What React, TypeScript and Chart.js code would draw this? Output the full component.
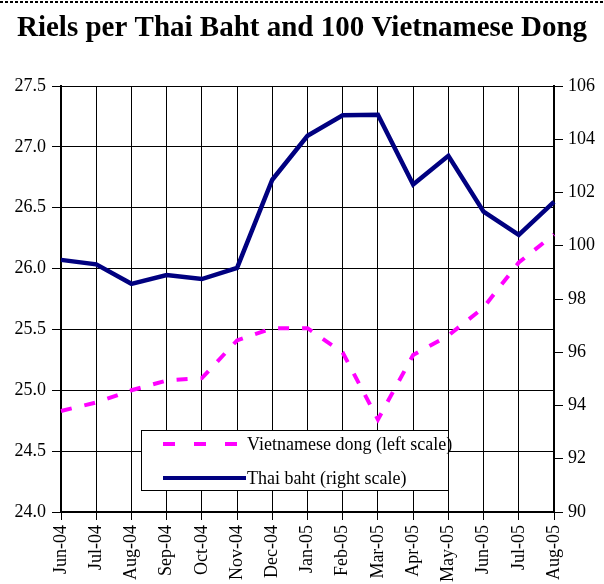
import React, { useEffect, useRef } from "react";
import { Chart, registerables } from "chart.js";

Chart.register(...registerables);

const months = ["Jun-04", "Jul-04", "Aug-04", "Sep-04", "Oct-04", "Nov-04", "Dec-04", "Jan-05", "Feb-05", "Mar-05", "Apr-05", "May-05", "Jun-05", "Jul-05", "Aug-05"];
const vietnameseDong = [24.83, 24.9, 25.0, 25.08, 25.1, 25.41, 25.51, 25.51, 25.31, 24.76, 25.29, 25.45, 25.68, 26.05, 26.28];
const thaiBaht = [99.47, 99.3, 98.57, 98.9, 98.75, 99.17, 102.48, 104.13, 104.9, 104.92, 102.3, 103.38, 101.28, 100.41, 101.65];

const titleText = "Riels per Thai Baht and 100 Vietnamese Dong";
const legendDong = "Vietnamese dong (left scale)";
const legendBaht = "Thai baht (right scale)";

const SERIF = "'Liberation Serif', 'Times New Roman', serif";

const decorPlugin = {
  id: "decor",
  afterDraw(chart: any) {
    const ctx = chart.ctx;
    ctx.save();
    // dashed top border
    ctx.strokeStyle = "#000";
    ctx.lineWidth = 2;
    ctx.setLineDash([3, 2]);
    ctx.beginPath();
    ctx.moveTo(0, 2);
    ctx.lineTo(chart.width, 2);
    ctx.stroke();
    ctx.setLineDash([]);
    // title
    ctx.fillStyle = "#000";
    ctx.font = "bold 29px " + SERIF;
    ctx.textAlign = "center";
    ctx.textBaseline = "alphabetic";
    ctx.fillText(titleText, chart.width / 2, 36);
    // legend box
    const lx = 141.5, ly = 430.5, lw = 307, lh = 60;
    ctx.fillStyle = "#fff";
    ctx.fillRect(lx, ly, lw, lh);
    ctx.strokeStyle = "#000";
    ctx.lineWidth = 1;
    ctx.strokeRect(lx, ly, lw, lh);
    // dong sample
    ctx.strokeStyle = "#FF00FF";
    ctx.lineWidth = 4;
    ctx.setLineDash([12, 19]);
    ctx.beginPath();
    ctx.moveTo(163, 444);
    ctx.lineTo(246, 444);
    ctx.stroke();
    ctx.setLineDash([]);
    // baht sample
    ctx.strokeStyle = "#000080";
    ctx.lineWidth = 4;
    ctx.beginPath();
    ctx.moveTo(163, 478);
    ctx.lineTo(246, 478);
    ctx.stroke();
    ctx.fillStyle = "#000";
    ctx.font = "18px " + SERIF;
    ctx.textAlign = "left";
    ctx.textBaseline = "middle";
    ctx.fillText(legendDong, 247, 445);
    ctx.fillText(legendBaht, 247, 479);
    ctx.restore();
  },
};

export default function App() {
  const ref = useRef<HTMLCanvasElement | null>(null);
  useEffect(() => {
    if (!ref.current) return;
    const chart = new Chart(ref.current, {
      type: "line",
      data: {
        labels: months,
        datasets: [
          {
            label: legendDong,
            data: vietnameseDong,
            yAxisID: "yL",
            borderColor: "#FF00FF",
            borderWidth: 4,
            borderDash: [11, 13],
            pointRadius: 0,
            tension: 0,
            fill: false,
          },
          {
            label: legendBaht,
            data: thaiBaht,
            yAxisID: "yR",
            borderColor: "#000080",
            borderWidth: 4.5,
            pointRadius: 0,
            tension: 0,
            fill: false,
          },
        ],
      },
      options: {
        animation: false,
        responsive: false,
        maintainAspectRatio: false,
        layout: { padding: { top: 86, left: 0, right: 0, bottom: 0 } },
        plugins: {
          legend: { display: false },
          title: { display: false },
          tooltip: { enabled: false },
        },
        scales: {
          x: {
            type: "category",
            offset: false,
            grid: { color: "#000", lineWidth: 1, tickLength: 8, drawTicks: true },
            border: { display: true, color: "#000", width: 2 },
            ticks: {
              color: "#000",
              font: { family: SERIF, size: 18 },
              maxRotation: 90,
              minRotation: 90,
              padding: 5,
              autoSkip: false,
            },
            afterFit: (s: any) => { s.height = 72; },
          },
          yL: {
            type: "linear",
            position: "left",
            min: 24,
            max: 27.5,
            grid: { color: "#000", lineWidth: 1, tickLength: 9 },
            border: { display: true, color: "#000", width: 2 },
            ticks: {
              stepSize: 0.5,
              color: "#000",
              font: { family: SERIF, size: 18 },
              padding: 6,
              callback: (v: any) => Number(v).toFixed(1),
            },
            afterFit: (s: any) => { s.width = 61; },
          },
          yR: {
            type: "linear",
            position: "right",
            min: 90,
            max: 106,
            grid: { drawOnChartArea: false, color: "#000", tickLength: 9 },
            border: { display: true, color: "#000", width: 2 },
            ticks: {
              stepSize: 2,
              color: "#000",
              font: { family: SERIF, size: 18 },
              padding: 5,
            },
            afterFit: (s: any) => { s.width = 50; },
          },
        },
      },
      plugins: [decorPlugin],
    });
    return () => chart.destroy();
  }, []);
  return (
    <div style={{ position: "fixed", left: 0, top: 0, width: 604, height: 584, background: "#fff" }}>
      <canvas ref={ref} width={604} height={584} style={{ width: 604, height: 584, display: "block" }} />
    </div>
  );
}
